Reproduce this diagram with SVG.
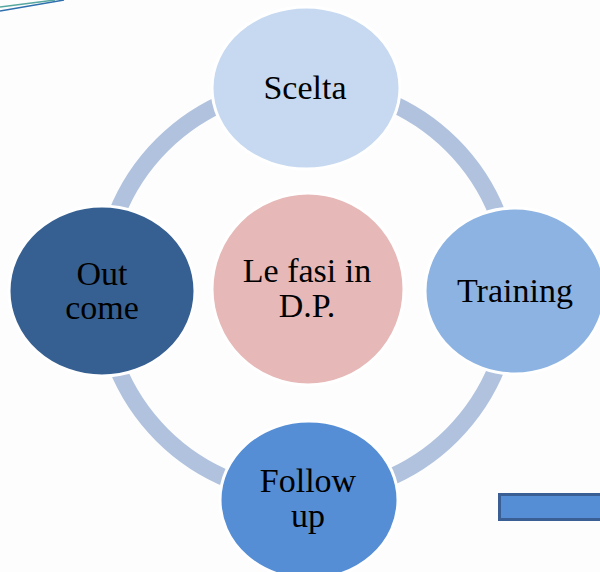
<svg xmlns="http://www.w3.org/2000/svg" width="600" height="572" viewBox="0 0 600 572">
  <style>
    .node { stroke: #ffffff; stroke-width: 3; }
    .lbl { font-family: "Liberation Serif", "Times New Roman", serif; font-size: 34px; fill: #000000; text-anchor: middle; }
  </style>
  <rect x="0" y="0" width="600" height="572" fill="#fdfdfd"/>
  <g id="decor">
    <line x1="0" y1="7" x2="55" y2="0" stroke="#55a79f" stroke-width="1.5"/>
    <line x1="0" y1="11" x2="64" y2="0" stroke="#2f6fae" stroke-width="1.5"/>
    <rect x="499.5" y="494.5" width="110" height="25" fill="#558ed5" stroke="#3a5f95" stroke-width="3"/>
  </g>
  <g id="connectors">
    <circle cx="307" cy="290" r="205" fill="none" stroke="#b0c2de" stroke-width="17"/>
  </g>
  <g id="center">
    <circle class="node" cx="308" cy="289" r="96" fill="#e6b8b7"/>
    <text class="lbl" x="307" y="282">Le fasi in</text>
    <text class="lbl" x="307" y="317">D.P.</text>
  </g>
  <g id="scelta">
    <ellipse class="node" cx="306" cy="88" rx="94" ry="81" fill="#c6d9f1"/>
    <text class="lbl" x="305" y="99">Scelta</text>
  </g>
  <g id="training">
    <ellipse class="node" cx="515" cy="291" rx="90" ry="83" fill="#8db3e2"/>
    <text class="lbl" x="515" y="302">Training</text>
  </g>
  <g id="followup">
    <ellipse class="node" cx="309" cy="500" rx="89" ry="79" fill="#558ed5"/>
    <text class="lbl" x="308" y="492">Follow</text>
    <text class="lbl" x="308" y="527">up</text>
  </g>
  <g id="outcome">
    <ellipse class="node" cx="102" cy="291" rx="93" ry="85" fill="#376092"/>
    <text class="lbl" x="102" y="285">Out</text>
    <text class="lbl" x="102" y="319">come</text>
  </g>
</svg>
